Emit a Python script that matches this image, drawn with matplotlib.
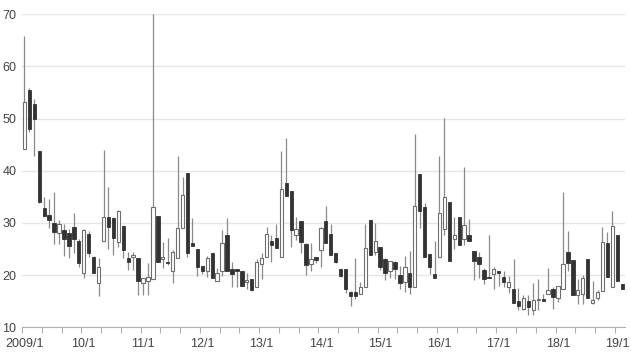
import numpy as np
import matplotlib
matplotlib.use('Agg')
import matplotlib.pyplot as plt

# monthly candles, 2009/1 .. 2019/2
months = ['%d/%d' % (y, m) for y in range(2009, 2020) for m in range(1, 13)][:122]

opens = [44.2, 55.4, 52.8, 43.8, 32.8, 31.5, 29.9, 28.0, 28.6, 28.0, 29.3, 26.5,
         20.5, 27.9, 23.5, 18.5, 26.6, 31.2, 30.9, 26.4, 29.5, 23.3, 23.4, 23.3,
         18.5, 18.9, 19.2, 31.3, 23.0, 22.6, 20.7, 23.2, 29.1, 39.5, 26.1, 25.0,
         21.7, 20.8, 24.2, 18.9, 20.7, 27.7, 21.1, 21.1, 20.7, 18.6, 19.2, 17.7,
         22.1, 23.4, 26.6, 27.1, 23.4, 37.6, 36.2, 27.7, 30.4, 26.0, 22.1, 23.5,
         24.8, 30.4, 27.8, 24.3, 21.1, 21.1, 16.8, 16.8, 16.4, 17.7, 30.6, 24.5,
         25.3, 23.0, 20.8, 22.6, 20.0, 18.7, 20.5, 17.7, 39.3, 33.0, 24.0, 20.3,
         23.4, 28.8, 34.0, 26.9, 31.2, 26.9, 27.7, 24.7, 23.5, 21.0, 19.7, 20.3,
         20.8, 19.7, 17.8, 17.3, 15.0, 13.6, 15.0, 13.4, 15.2, 15.5, 16.4, 17.3,
         15.7, 17.3, 24.5, 22.9, 16.2, 16.3, 23.0, 14.6, 15.7, 17.0, 26.2, 17.7,
         27.6, 18.3]
closes = [53.1, 48.0, 49.9, 34.0, 31.4, 30.6, 28.3, 29.8, 26.9, 25.6, 26.9, 22.4,
          28.6, 24.3, 20.5, 21.6, 31.1, 29.3, 27.1, 32.2, 24.8, 22.6, 23.9, 18.9,
          19.5, 19.6, 33.0, 22.6, 23.4, 22.3, 24.5, 29.0, 35.4, 24.3, 25.6, 21.6,
          20.8, 23.3, 19.4, 20.5, 26.2, 20.7, 20.2, 20.8, 17.9, 19.1, 17.1, 22.6,
          23.3, 27.8, 25.8, 25.2, 36.6, 35.2, 28.6, 28.8, 26.4, 21.9, 23.0, 22.9,
          29.1, 26.2, 23.9, 22.6, 19.8, 17.3, 16.0, 16.0, 17.7, 25.2, 23.9, 26.6,
          21.6, 20.5, 22.8, 21.1, 18.5, 21.5, 17.7, 33.2, 32.2, 23.5, 21.6, 19.4,
          31.9, 35.0, 22.8, 27.7, 25.8, 29.7, 26.6, 22.8, 22.1, 19.2, 19.4, 21.1,
          20.5, 18.7, 18.6, 14.7, 14.1, 15.7, 13.9, 15.2, 15.5, 15.1, 17.1, 15.9,
          17.9, 22.1, 22.4, 16.1, 17.1, 19.5, 15.7, 15.2, 16.8, 26.3, 19.7, 29.4,
          18.9, 17.3]
lows = [44.2, 47.5, 42.8, 33.8, 31.2, 29.0, 25.9, 25.9, 23.7, 23.2, 24.2, 21.5,
        19.4, 23.5, 20.5, 16.0, 26.6, 25.1, 23.9, 25.4, 23.2, 21.0, 20.9, 16.2,
        16.2, 16.2, 19.2, 22.6, 21.3, 21.9, 18.4, 23.2, 29.1, 23.5, 25.6, 19.8,
        20.2, 19.6, 19.4, 18.9, 19.8, 20.7, 17.7, 17.7, 17.9, 17.3, 17.0, 17.7,
        19.2, 23.4, 22.6, 25.2, 23.4, 35.2, 25.4, 26.7, 24.3, 20.0, 20.7, 22.3,
        21.6, 26.2, 23.9, 22.3, 19.7, 16.5, 14.1, 15.4, 16.4, 17.7, 23.9, 23.9,
        21.0, 19.1, 19.4, 19.2, 17.3, 16.8, 16.4, 17.7, 29.0, 23.5, 20.2, 19.4,
        23.4, 27.7, 22.8, 25.1, 25.8, 25.8, 26.6, 19.1, 19.4, 18.3, 19.4, 17.3,
        17.9, 17.7, 16.5, 14.7, 13.4, 13.3, 12.4, 12.4, 13.4, 15.1, 16.4, 13.6,
        14.8, 17.3, 20.7, 16.1, 14.5, 14.5, 15.7, 14.4, 15.2, 17.0, 19.7, 17.7,
        18.9, 17.3]
highs = [65.9, 55.8, 53.8, 43.8, 35.0, 34.6, 36.0, 30.6, 29.8, 28.9, 31.9, 26.9,
         28.8, 28.5, 23.6, 23.2, 44.0, 36.8, 31.1, 32.4, 29.6, 24.5, 24.4, 23.3,
         19.5, 22.3, 70.0, 31.3, 26.3, 27.2, 24.8, 42.8, 38.9, 39.5, 30.9, 25.0,
         21.7, 23.6, 24.2, 21.4, 28.6, 30.9, 22.6, 21.1, 20.8, 20.5, 19.2, 23.0,
         24.2, 29.3, 27.7, 29.8, 43.8, 46.2, 36.2, 31.2, 30.4, 26.1, 26.1, 23.5,
         29.3, 33.2, 29.8, 24.3, 21.1, 21.1, 16.9, 23.2, 18.7, 29.8, 30.6, 30.0,
         25.3, 23.3, 22.8, 22.8, 21.7, 23.6, 24.7, 47.1, 39.3, 33.9, 24.0, 26.6,
         42.8, 50.1, 34.0, 31.1, 31.2, 40.8, 30.8, 24.7, 24.4, 21.3, 27.7, 21.5,
         20.8, 20.7, 19.8, 23.0, 17.5, 16.2, 16.2, 18.5, 19.2, 16.4, 21.3, 17.7,
         18.0, 36.0, 28.5, 22.9, 19.3, 20.0, 23.0, 18.9, 17.1, 29.2, 28.3, 32.2,
         27.6, 18.3]

fig = plt.figure(figsize=(6.31, 3.54), dpi=100)
ax = fig.add_axes([22/631, (354-327.3)/354, 602.7/631, 313/354])

x = np.arange(len(months))
o = np.array(opens)
c = np.array(closes)
up = c >= o

# wicks
ax.vlines(x, lows, highs, color='#8a8a8a', lw=0.9, zorder=2)

# bodies
body = np.abs(c - o)
body = np.maximum(body, 0.15)
ax.bar(x[up], body[up], bottom=np.minimum(o, c)[up], width=0.68,
       facecolor='white', edgecolor='#6e6e6e', lw=0.8, zorder=3)
ax.bar(x[~up], body[~up], bottom=np.minimum(o, c)[~up], width=0.68,
       facecolor='#333333', edgecolor='#333333', lw=0.6, zorder=3)

ax.set_xlim(-0.5, len(months) - 0.5)
ax.set_ylim(10, 70)
ax.set_yticks(range(10, 71, 10))
ax.grid(axis='y', color='#e6e6e6', lw=1)
ax.set_axisbelow(True)

for s in ['top', 'right', 'left']:
    ax.spines[s].set_visible(False)
ax.spines['bottom'].set_color('#b0b0b0')

ax.tick_params(axis='y', length=0, pad=4, labelsize=9, labelcolor='#444444')

lab_idx = list(range(0, len(months), 12))
ax.set_xticks(lab_idx)
ax.set_xticklabels(['2009/1'] + [months[i][2:] for i in lab_idx[1:]])
ax.set_xticks(np.arange(-0.5, len(months), 4), minor=True)
ax.tick_params(axis='x', which='major', length=0, pad=8, labelsize=9, labelcolor='#444444')
ax.tick_params(axis='x', which='minor', length=4, color='#b0b0b0', width=0.8)

for t in ax.get_xticklabels() + ax.get_yticklabels():
    t.set_family('Liberation Sans')

fig.savefig('out.png', dpi=100)
